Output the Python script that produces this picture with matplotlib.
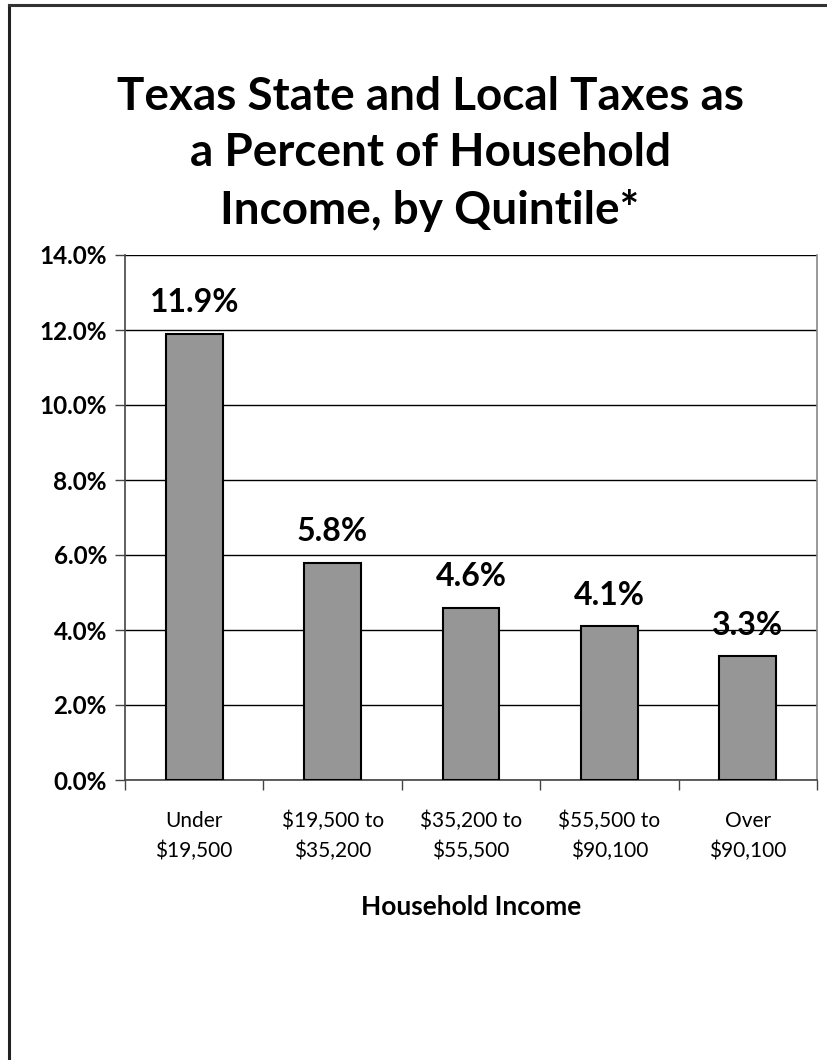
import matplotlib
matplotlib.use("Agg")
import matplotlib.pyplot as plt
from matplotlib.lines import Line2D
from matplotlib.ticker import FuncFormatter, MultipleLocator

plt.rcParams['font.family'] = ['Lato', 'DejaVu Sans']

categories = ["Under\n$19,500", "$19,500 to\n$35,200", "$35,200 to\n$55,500",
              "$55,500 to\n$90,100", "Over\n$90,100"]
tax_share = [11.9, 5.8, 4.6, 4.1, 3.3]
title = "Texas State and Local Taxes as\na Percent of Household\nIncome, by Quintile*"
xlabel = "Household Income"

W, H = 827, 1060
fig = plt.figure(figsize=(W / 100, H / 100), dpi=100)

# frame lines along the top and left of the page
fig.add_artist(Line2D([8.5 / W, 8.5 / W], [0, 1 - 5 / H], transform=fig.transFigure,
                      color="#222222", lw=2.2))
fig.add_artist(Line2D([8.5 / W, 1], [1 - 5 / H, 1 - 5 / H], transform=fig.transFigure,
                      color="#333333", lw=2.2))

left, right, top, bottom = 125, 817, 255, 780
ax = fig.add_axes([left / W, 1 - bottom / H, (right - left) / W, (bottom - top) / H])

x = range(len(categories))
bars = ax.bar(x, tax_share, width=0.41, color="#969696", edgecolor="black",
              linewidth=1.5, zorder=3)

for xi, v in zip(x, tax_share):
    ax.annotate(f"{v:.1f}%", (xi, v), xytext=(0, 12), textcoords="offset points",
                ha="center", va="bottom", fontsize=23, fontweight="bold", zorder=4)

ax.set_ylim(0, 14)
ax.set_xlim(-0.5, len(categories) - 0.5)
ax.yaxis.set_major_locator(MultipleLocator(2))
ax.yaxis.set_major_formatter(FuncFormatter(lambda v, p: f"{v:.1f}%"))
ax.grid(axis="y", color="black", lw=1.0, zorder=0)

ax.set_xticks([i - 0.5 for i in range(len(categories) + 1)], minor=False)
ax.set_xticklabels([])
ax.set_xticks(list(x), minor=True)
ax.set_xticklabels(categories, minor=True, fontsize=15)
ax.tick_params(axis="x", which="minor", length=0, pad=22)
ax.tick_params(axis="x", which="major", length=7, width=1, color="#444444", direction="out")
ax.tick_params(axis="y", length=7, width=1, color="#444444", direction="out", pad=6)
for lab in ax.get_yticklabels():
    lab.set_fontweight("bold")
    lab.set_fontsize(17.5)
for lab in ax.get_xticklabels(minor=True):
    lab.set_linespacing(1.6)

ax.spines["top"].set_visible(False)
ax.spines["left"].set_color("#444444")
ax.spines["bottom"].set_color("#444444")
ax.spines["right"].set_color("#888888")
for s in ax.spines.values():
    s.set_linewidth(1.2)

ax.set_xlabel(xlabel, fontsize=19, fontweight="bold", labelpad=24)

fig.text(430 / W, 1 - 76 / H, title, ha="center", va="top", fontsize=33,
         fontweight="bold", linespacing=1.42)

fig.savefig("out.png", dpi=100, facecolor="white")
